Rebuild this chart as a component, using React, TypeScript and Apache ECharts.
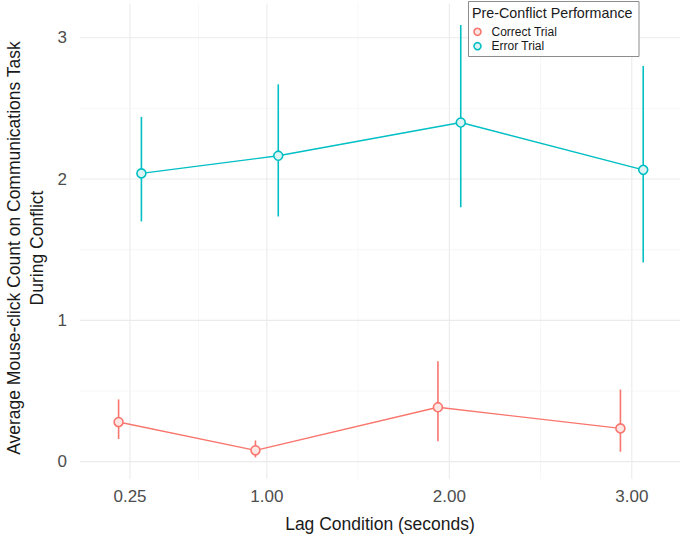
import React, { useEffect, useRef } from "react";
import * as echarts from "echarts";

const lags = [0.25, 1.0, 2.0, 3.0];
const xTickValues = [0.25, 1.0, 2.0, 3.0];
const xMinorGrid = [0.625, 1.5, 2.5];
const yTickValues = [0, 1, 2, 3];
const yMinorGrid = [0.5, 1.5, 2.5];

const correctMean = [0.28, 0.08, 0.385, 0.235];
const correctLow = [0.16, 0.03, 0.145, 0.07];
const correctHigh = [0.44, 0.15, 0.71, 0.51];

const errorMean = [2.04, 2.165, 2.4, 2.065];
const errorLow = [1.7, 1.735, 1.8, 1.41];
const errorHigh = [2.44, 2.67, 3.09, 2.8];

const seriesNames = ["Correct Trial", "Error Trial"];
const legendTitle = "Pre-Conflict Performance";
const xTitle = "Lag Condition (seconds)";
const yTitle = "Average Mouse-click Count on Communications Task\nDuring Conflict";

const RED = "#F8766D";
const BLUE = "#00BFC4";
const FONT = "'Liberation Sans', Arial, Helvetica, sans-serif";
const DODGE = 0.0625;

export default function App() {
  const ref = useRef<HTMLDivElement>(null);
  useEffect(() => {
    if (!ref.current) return;
    const chart = echarts.init(ref.current, null, { renderer: "svg" });

    const vGridData = [
      ...xTickValues.map((v) => [v, 0, 1]),
      ...xMinorGrid.map((v) => [v, 0, 0]),
    ];
    const hGridData = [
      ...yTickValues.map((v) => [0, v, 1]),
      ...yMinorGrid.map((v) => [0, v, 0]),
    ];

    const gridRender = (vertical: boolean) => (params: any, api: any) => {
      const cs = params.coordSys;
      const major = api.value(2) === 1;
      const style = {
        stroke: major ? "#EBEBEB" : "#F4F4F4",
        lineWidth: major ? 1.1 : 0.7,
      };
      if (vertical) {
        const px = api.coord([api.value(0), 0])[0];
        return { type: "line", shape: { x1: px, y1: cs.y, x2: px, y2: cs.y + cs.height }, style };
      }
      const py = api.coord([0, api.value(1)])[1];
      return { type: "line", shape: { x1: cs.x, y1: py, x2: cs.x + cs.width, y2: py }, style };
    };

    const errRender = (color: string) => (params: any, api: any) => {
      const x = api.value(0);
      const p1 = api.coord([x, api.value(1)]);
      const p2 = api.coord([x, api.value(2)]);
      return {
        type: "line",
        shape: { x1: p1[0], y1: p1[1], x2: p2[0], y2: p2[1] },
        style: { stroke: color, lineWidth: 1.6 },
      };
    };

    const corrErr = lags.map((l, i) => [l - DODGE, correctLow[i], correctHigh[i]]);
    const errErr = lags.map((l, i) => [l + DODGE, errorLow[i], errorHigh[i]]);
    const corrPts = lags.map((l, i) => [l - DODGE, correctMean[i]]);
    const errPts = lags.map((l, i) => [l + DODGE, errorMean[i]]);

    const pointSeries = (name: string, data: number[][], color: string, fill: string) => ({
      type: "line",
      name,
      data,
      symbol: "circle",
      symbolSize: 9,
      z: 5,
      lineStyle: { color, width: 1.4 },
      itemStyle: { color: fill, borderColor: color, borderWidth: 1.6 },
    });

    chart.setOption({
      animation: false,
      grid: { left: 80, right: 5, top: 3.4, bottom: 58.3, containLabel: false },
      xAxis: {
        type: "value",
        min: -0.024,
        max: 3.264,
        axisLine: { show: false },
        axisTick: { show: false },
        splitLine: { show: false },
        axisLabel: {
          customValues: xTickValues,
          formatter: (v: number) => v.toFixed(2),
          fontSize: 17,
          color: "#4D4D4D",
          fontFamily: FONT,
          margin: 9,
        },
        name: xTitle,
        nameLocation: "middle",
        nameGap: 36,
        nameTextStyle: { fontSize: 17.5, color: "#1a1a1a", fontFamily: FONT },
      },
      yAxis: {
        type: "value",
        min: -0.123,
        max: 3.243,
        axisLine: { show: false },
        axisTick: { show: false },
        splitLine: { show: false },
        axisLabel: {
          customValues: yTickValues,
          formatter: (v: number) => String(v),
          fontSize: 17,
          color: "#4D4D4D",
          fontFamily: FONT,
          margin: 13,
        },
      },
      series: [
        { type: "custom", renderItem: gridRender(true), data: vGridData, encode: { x: 0, y: 1 }, silent: true, z: 0 },
        { type: "custom", renderItem: gridRender(false), data: hGridData, encode: { x: 0, y: 1 }, silent: true, z: 0 },
        { type: "custom", renderItem: errRender(RED), data: corrErr, encode: { x: 0, y: [1, 2] }, z: 2 },
        { type: "custom", renderItem: errRender(BLUE), data: errErr, encode: { x: 0, y: [1, 2] }, z: 2 },
        pointSeries(seriesNames[0], corrPts, RED, "#FDE6E4"),
        pointSeries(seriesNames[1], errPts, BLUE, "#DDF4F4"),
      ],
      graphic: [
        {
          type: "text",
          x: 25.5,
          y: 248,
          rotation: Math.PI / 2,
          style: {
            text: yTitle,
            fontSize: 17.5,
            fontFamily: FONT,
            fill: "#1a1a1a",
            align: "center",
            verticalAlign: "middle",
            lineHeight: 23,
          },
        },
        {
          type: "rect",
          shape: { x: 468.5, y: 1.5, width: 170.5, height: 55 },
          style: { fill: "#ffffff", stroke: "#8c8c8c", lineWidth: 1 },
          z: 10,
        },
        {
          type: "text",
          x: 472,
          y: 13,
          z: 11,
          style: { text: legendTitle, fontSize: 14.3, lineHeight: 14, fontFamily: FONT, fill: "#1a1a1a", verticalAlign: "middle" },
        },
        {
          type: "circle",
          shape: { cx: 477.5, cy: 31.8, r: 3.5 },
          style: { fill: "#FDE6E4", stroke: RED, lineWidth: 1.6 },
          z: 11,
        },
        {
          type: "text",
          x: 491.5,
          y: 31.8,
          z: 11,
          style: { text: seriesNames[0], fontSize: 12, lineHeight: 12, fontFamily: FONT, fill: "#1a1a1a", verticalAlign: "middle" },
        },
        {
          type: "circle",
          shape: { cx: 477.5, cy: 46.2, r: 3.5 },
          style: { fill: "#DDF4F4", stroke: BLUE, lineWidth: 1.6 },
          z: 11,
        },
        {
          type: "text",
          x: 491.5,
          y: 46.2,
          z: 11,
          style: { text: seriesNames[1], fontSize: 12, lineHeight: 12, fontFamily: FONT, fill: "#1a1a1a", verticalAlign: "middle" },
        },
      ],
    });
    return () => chart.dispose();
  }, []);
  return (
    <div
      ref={ref}
      style={{ position: "fixed", left: 0, top: 0, width: 685, height: 538, background: "#ffffff" }}
    />
  );
}
